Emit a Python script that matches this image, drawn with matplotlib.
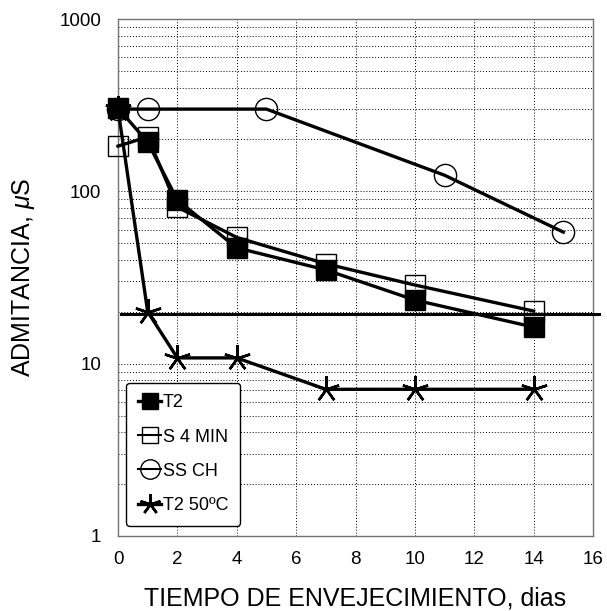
import matplotlib
matplotlib.use("Agg")
import matplotlib.pyplot as plt
from matplotlib.ticker import FixedLocator, LogLocator, NullFormatter, FixedFormatter
from matplotlib.lines import Line2D

plt.rcParams['font.family'] = ['Liberation Sans', 'DejaVu Sans']
plt.rcParams['mathtext.fontset'] = 'custom'
plt.rcParams['mathtext.it'] = 'Liberation Sans:italic'
plt.rcParams['mathtext.rm'] = 'Liberation Sans'

# Data
x_t2 = [0, 1, 2, 4, 7, 10, 14]
y_t2 = [304, 193, 89, 47, 35, 23.4, 16.3]

x_s4 = [0, 1, 2, 4, 7, 10, 14]
y_s4 = [183, 207, 81, 54, 38, 28.6, 20.2]

x_ss = [0, 1, 5, 11, 15]
y_ss = [300, 300, 300, 124, 58]

x_t50 = [0, 1, 2, 4, 7, 10, 14]
y_t50 = [300, 20, 10.8, 10.8, 7.1, 7.1, 7.1]

ref_level = 19.5

labels = ["T2", "S 4 MIN", "SS CH", "T2 50ºC"]
xticks = [0, 2, 4, 6, 8, 10, 12, 14, 16]
yticks = [1, 10, 100, 1000]

fig = plt.figure(figsize=(6.07, 6.11), dpi=100)
ax = fig.add_axes([118/607, 1-536/611, (593-118)/607, (536-19)/611])
ax.set_yscale('log')
ax.set_xlim(0, 16)
ax.set_ylim(1, 1000)

lw = 2.4
star = (5, 2, 0)
ax.plot(x_ss, y_ss, color='black', lw=lw, marker='o', ms=16, mfc='none', mec='black', mew=1.0, zorder=3, clip_on=False)
ax.plot(x_t50, y_t50, color='black', lw=lw, marker=star, ms=19, mec='black', mew=1.8, zorder=3, clip_on=False)
ax.plot(x_s4, y_s4, color='black', lw=lw, marker='s', ms=14, mfc='none', mec='black', mew=1.0, zorder=3, clip_on=False)
ax.plot(x_t2, y_t2, color='black', lw=lw, marker='s', ms=14, mfc='black', mec='black', zorder=4, clip_on=False)

ax.plot([0.1, 16.2], [ref_level, ref_level], color='black', lw=2.2, clip_on=False, zorder=3)

ax.xaxis.set_major_locator(FixedLocator(xticks))
ax.yaxis.set_major_locator(FixedLocator(yticks))
ax.yaxis.set_major_formatter(FixedFormatter([str(v) for v in yticks]))
ax.yaxis.set_minor_locator(LogLocator(base=10, subs=range(2, 10)))
ax.yaxis.set_minor_formatter(NullFormatter())
ax.tick_params(axis='both', which='both', length=0, labelsize=13.5)
ax.tick_params(axis='x', pad=11)
ax.tick_params(axis='y', pad=12)

ax.grid(True, which='major', axis='x', color='black', lw=0.7, ls=(0, (1.0, 2)))
ax.grid(True, which='both', axis='y', color='black', lw=0.7, ls=(0, (1.0, 2)))
for s in ax.spines.values():
    s.set_color('0.45')
    s.set_linewidth(1.0)

ax.set_xlabel("TIEMPO DE ENVEJECIMIENTO, dias", fontsize=18, labelpad=13)
ax.set_ylabel(r"ADMITANCIA, $\mu$S", fontsize=18, labelpad=16)

handles = [
    Line2D([], [], color='black', lw=lw, marker='s', ms=12, mfc='black', mec='black'),
    Line2D([], [], color='black', lw=1.5, marker='s', ms=12, mfc='none', mec='black', mew=1.0),
    Line2D([], [], color='black', lw=1.5, marker='o', ms=14, mfc='none', mec='black', mew=1.0),
    Line2D([], [], color='black', lw=lw, marker=star, ms=15, mec='black', mew=1.8),
]
leg = ax.legend(handles, labels, loc='lower left', bbox_to_anchor=(0.017, 0.02),
                fontsize=13, frameon=True, fancybox=True, handlelength=1.3,
                handletextpad=0.1, labelspacing=0.95, borderpad=0.65, borderaxespad=0.0)
leg.get_frame().set_edgecolor('black')
leg.get_frame().set_linewidth(1.0)
leg.get_frame().set_alpha(1)

fig.savefig("out.png", dpi=100)
